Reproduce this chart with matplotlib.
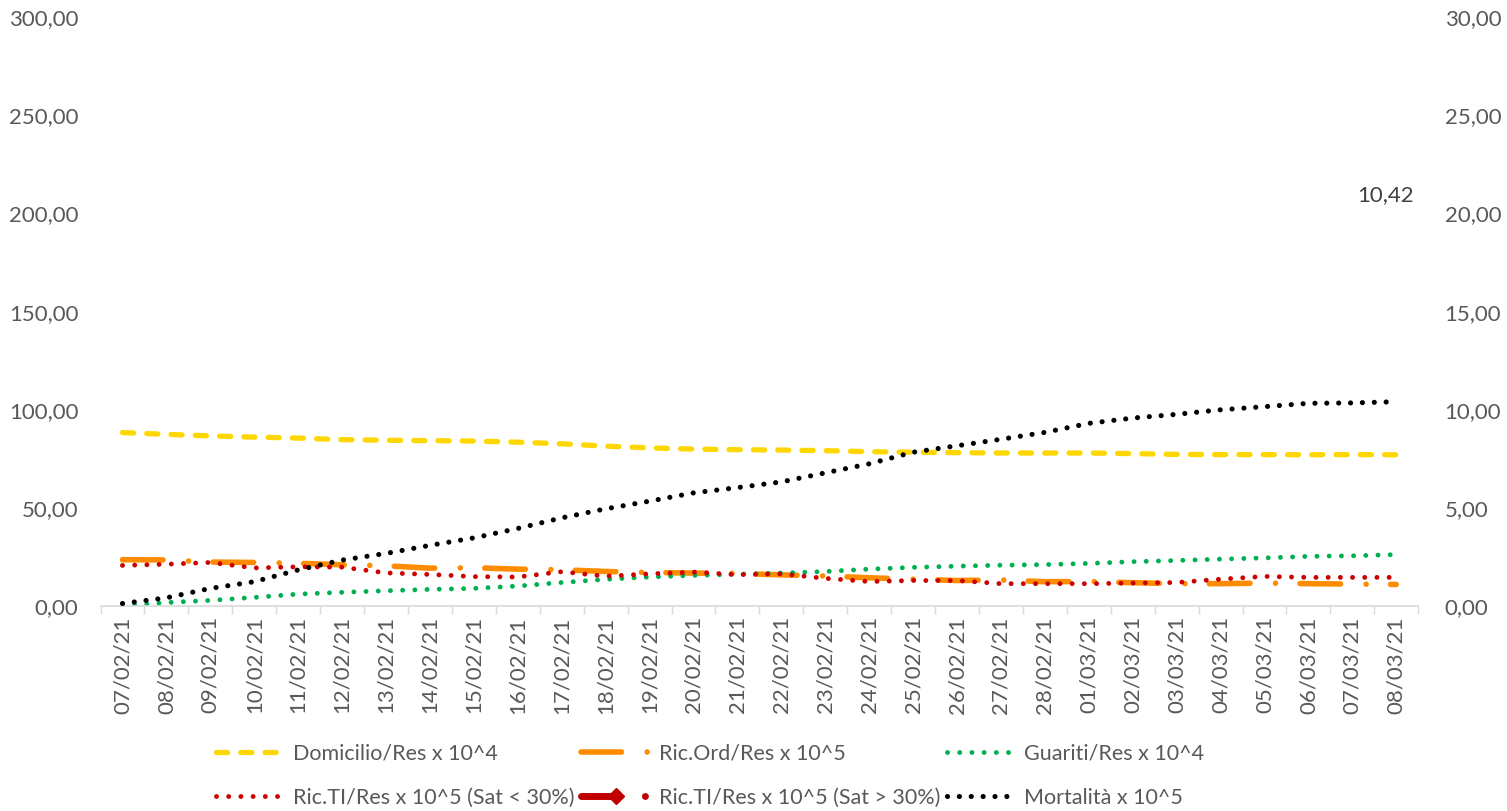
import numpy as np
import matplotlib
matplotlib.use('Agg')
from matplotlib import pyplot as plt
from matplotlib.ticker import FuncFormatter

plt.rcParams['font.family'] = ['Lato', 'DejaVu Sans']

dates = ['07/02/21', '08/02/21', '09/02/21', '10/02/21', '11/02/21', '12/02/21',
         '13/02/21', '14/02/21', '15/02/21', '16/02/21', '17/02/21', '18/02/21',
         '19/02/21', '20/02/21', '21/02/21', '22/02/21', '23/02/21', '24/02/21',
         '25/02/21', '26/02/21', '27/02/21', '28/02/21', '01/03/21', '02/03/21',
         '03/03/21', '04/03/21', '05/03/21', '06/03/21', '07/03/21', '08/03/21']

# left axis series
domicilio = [88.5, 87.6, 86.8, 86.2, 85.7, 84.9, 84.6, 84.4, 84.2, 83.6,
             82.8, 81.6, 80.7, 80.1, 79.8, 79.6, 79.3, 78.8, 78.5, 78.3,
             78.1, 78.1, 78.1, 77.8, 77.4, 77.3, 77.3, 77.2, 77.3, 77.2]
ric_ord = [23.8, 23.7, 22.6, 22.4, 22.0, 21.2, 20.7, 19.5, 19.7, 19.0,
           18.7, 17.8, 17.3, 17.0, 16.8, 16.1, 15.5, 14.6, 13.9, 13.2,
           13.5, 12.6, 12.7, 12.1, 11.6, 11.6, 11.9, 11.6, 11.4, 11.2]
guariti = [0.2, 2.0, 3.1, 4.6, 6.3, 7.2, 8.0, 8.7, 9.2, 10.4,
           12.2, 13.8, 15.0, 15.8, 16.4, 17.0, 17.8, 19.0, 19.9, 20.5,
           21.0, 21.3, 21.9, 22.8, 23.4, 24.1, 24.7, 25.5, 25.8, 26.4]
ric_ti_low = [20.9, 21.5, 22.4, 19.6, 20.2, 20.0, 17.1, 16.3, 15.2, 15.0,
              17.7, 15.4, 16.6, 17.5, 16.2, 16.6, 14.3, 12.7, 13.2, 13.2,
              11.6, 11.6, 11.6, 11.9, 12.2, 13.9, 15.3, 14.8, 14.8, 14.8]
ric_ti_high = [np.nan] * len(dates)  # no days above 30% saturation

# right axis series
mortalita = [0.15, 0.44, 0.92, 1.26, 1.86, 2.36, 2.70, 3.11, 3.49, 3.97,
             4.51, 4.97, 5.36, 5.78, 6.05, 6.34, 6.80, 7.26, 7.85, 8.18,
             8.51, 8.86, 9.32, 9.59, 9.78, 10.01, 10.17, 10.34, 10.36, 10.42]

grey = '#595959'

fig = plt.figure(figsize=(15.07, 8.11), dpi=100)
ax = fig.add_axes([0.0667, 0.2522, 0.8744, 0.7268])
ax2 = ax.twinx()
x = np.arange(len(dates))

l_dom, = ax.plot(x, domicilio, color='#FFD700', lw=3.8, dashes=(2.1, 2.5),
                 dash_capstyle='round', label='Domicilio/Res x 10^4')
l_ord, = ax.plot(x, ric_ord, color='#FF8C00', lw=4.0, dashes=(7.3, 4.6, 0.01, 4.4),
                 dash_capstyle='round', label='Ric.Ord/Res x 10^5')
l_gua, = ax.plot(x, guariti, color='#00B050', lw=3.5, dashes=(0.01, 2.5),
                 dash_capstyle='round', label='Guariti/Res x 10^4')
l_low, = ax.plot(x, ric_ti_low, color='#CC0000', lw=3.5, dashes=(0.01, 2.5),
                 dash_capstyle='round', label='Ric.TI/Res x 10^5 (Sat < 30%)')
l_high, = ax.plot(x, ric_ti_high, color='#C00000', lw=5.0, dashes=(5.4, 3.8, 0.01, 3.8),
                  dash_capstyle='round', marker='D', markersize=8,
                  label='Ric.TI/Res x 10^5 (Sat > 30%)')
l_mort, = ax2.plot(x, mortalita, color='black', lw=3.7, dashes=(0.01, 2.3),
                   dash_capstyle='round', label='Mortalità x 10^5')

ax2.annotate('10,42', xy=(x[-1], mortalita[-1]), xytext=(-11, 207),
             textcoords='offset pixels', ha='center', va='center',
             fontsize=16, color='#404040')

comma = FuncFormatter(lambda v, p: f'{v:.2f}'.replace('.', ','))

ax.set_xlim(-0.5, len(dates) - 0.5)
ax.set_ylim(0, 300)
ax.set_yticks(np.arange(0, 301, 50))
ax.yaxis.set_major_formatter(comma)
ax2.set_ylim(0, 30)
ax2.set_yticks(np.arange(0, 31, 5))
ax2.yaxis.set_major_formatter(comma)

ax.set_xticks(x)
ax.set_xticklabels(dates, rotation=90)
ax.set_xticks(np.arange(-0.5, len(dates), 1), minor=True)
ax.tick_params(axis='x', which='major', length=0, pad=7, labelsize=16, labelcolor=grey)
ax.tick_params(axis='x', which='minor', length=6, width=1, color='#D9D9D9')
ax.tick_params(axis='y', length=0, pad=16, labelsize=16, labelcolor=grey)
ax2.tick_params(axis='y', length=0, pad=19, labelsize=16, labelcolor=grey)

for s in ['top', 'left', 'right']:
    ax.spines[s].set_visible(False)
ax.spines['bottom'].set_color('#D9D9D9')
ax.spines['bottom'].set_linewidth(1.2)
for s in ax2.spines.values():
    s.set_visible(False)

handles = [l_dom, l_low, l_ord, l_high, l_gua, l_mort]
fig.legend(handles=handles, labels=[h.get_label() for h in handles],
           ncol=3, loc='upper left', bbox_to_anchor=(0.136, 0.0962),
           frameon=False, fontsize=15.5, labelcolor=grey, borderpad=0,
           handlelength=3.25, handletextpad=0.35, columnspacing=0.3,
           labelspacing=1.12)

fig.savefig('out.png', dpi=100)
